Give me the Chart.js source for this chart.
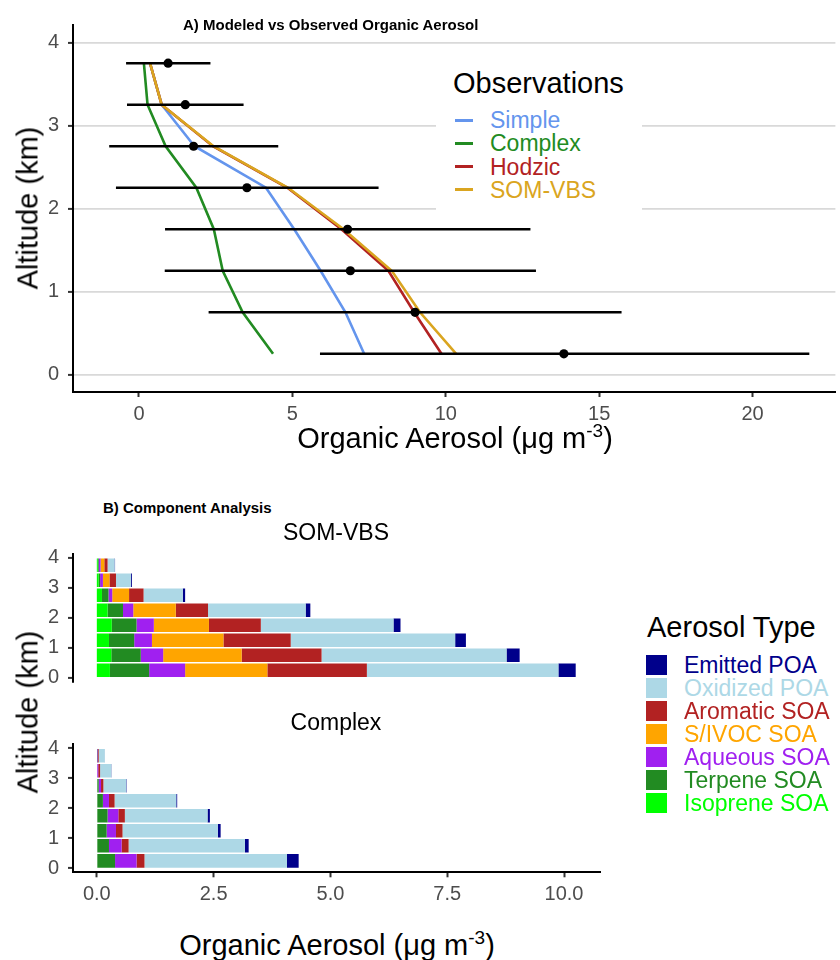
<!DOCTYPE html>
<html lang="en">
<head>
<meta charset="UTF-8">
<title>Organic Aerosol</title>
<script src="https://cdn.jsdelivr.net/npm/chart.js"></script>
<style>
  body { margin: 0; background: #fff; }
  #wrap { position: relative; width: 840px; height: 960px; overflow: hidden;
          font-family: 'Liberation Sans', Arial, sans-serif; color: #000; }
  #wrap canvas { position: absolute; }
  .txt { position: absolute; white-space: nowrap; line-height: 1; transform: translate(-50%, -50%); }
  .lft { transform: translate(0, -50%); }
  .rot { transform: translate(-50%, -50%) rotate(-90deg); }
  .ttl { font-weight: bold; }
  .axt { font-size: 29px; }
  .axt sup { font-size: 19px; }
  .strip { font-size: 23px; }
  #legA { position: absolute; left: 436px; top: 50px; width: 206px; height: 164px; background: #fff; }
  .key { position: absolute; }
</style>
</head>
<body>
<div id="wrap">
  <canvas id="panelA" width="840" height="440" style="left:0;top:0"></canvas>
  <canvas id="panelSom" width="620" height="145" style="left:0;top:540px"></canvas>
  <canvas id="panelCpx" width="620" height="190" style="left:0;top:730px"></canvas>

  <div class="txt lft ttl" style="left:183px;top:24px;font-size:15px">A) Modeled vs Observed Organic Aerosol</div>
  <div class="txt rot axt" style="left:28px;top:208px">Altitude (km)</div>
  <div class="txt axt" style="left:455px;top:437px">Organic Aerosol (μg m<sup>-3</sup>)</div>

  <div id="legA"></div>

  <div class="txt lft ttl" style="left:103px;top:507px;font-size:15px">B) Component Analysis</div>
  <div class="txt strip" style="left:336px;top:532px">SOM-VBS</div>
  <div class="txt strip" style="left:336px;top:722px">Complex</div>
  <div class="txt rot axt" style="left:28px;top:712px">Altitude (km)</div>
  <div class="txt axt" style="left:337px;top:944px">Organic Aerosol (μg m<sup>-3</sup>)</div>

  <div id="legB"></div>
</div>

<script>
// ---- panel A: modeled profiles vs observations ----
const altitudes = [0.25, 0.75, 1.25, 1.75, 2.25, 2.75, 3.25, 3.75];

const obsMean = [13.85, 9.00, 6.89, 6.80, 3.52, 1.78, 1.51, 0.95];
const obsLow  = [5.90, 2.27, 0.84, 0.85, -0.75, -0.97, -0.39, -0.42];
const obsHigh = [21.85, 15.73, 12.94, 12.76, 7.81, 4.54, 3.41, 2.33];

const simpleOA  = [7.34, 6.73, 5.92, 5.06, 4.14, 1.81, 0.74, 0.36];
const complexOA = [4.37, 3.38, 2.73, 2.44, 1.87, 0.87, 0.28, 0.16];
const hodzicOA  = [9.86, 8.97, 8.13, 6.60, 4.84, 2.41, 0.74, 0.36];
const somvbsOA  = [10.34, 9.16, 8.24, 6.67, 4.86, 2.43, 0.74, 0.36];

const modelNames  = ['Simple', 'Complex', 'Hodzic', 'SOM-VBS'];
const modelColors = ['#6495ED', '#228B22', '#B22222', '#DAA520'];

const xTicksA  = [0, 5, 10, 15, 20];
const xLabelsA = ['0', '5', '10', '15', '20'];
const yTicks   = [0, 1, 2, 3, 4];
const yLabels  = ['0', '1', '2', '3', '4'];

// ---- panel B: component breakdown (segment widths, bottom to top altitude) ----
const components = ['Isoprene SOA', 'Terpene SOA', 'Aqueous SOA', 'S/IVOC SOA', 'Aromatic SOA', 'Oxidized POA', 'Emitted POA'];
const compColors = ['#00FF00', '#228B22', '#A020F0', '#FFA500', '#B22222', '#ADD8E6', '#00008B'];

const somIsoprene = [0.28, 0.31, 0.26, 0.32, 0.23, 0.11, 0.04, 0.02];
const somTerpene  = [0.84, 0.63, 0.54, 0.53, 0.33, 0.14, 0.03, 0.02];
const somAqueous  = [0.77, 0.48, 0.38, 0.37, 0.22, 0.08, 0.06, 0.04];
const somSivoc    = [1.76, 1.68, 1.53, 1.18, 0.91, 0.36, 0.14, 0.08];
const somAromatic = [2.13, 1.71, 1.44, 1.11, 0.69, 0.31, 0.14, 0.07];
const somOxPOA    = [4.10, 3.96, 3.52, 2.84, 2.09, 0.84, 0.32, 0.15];
const somEmPOA    = [0.37, 0.28, 0.23, 0.15, 0.10, 0.05, 0.02, 0.01];

const cpxIsoprene = [0, 0, 0, 0, 0, 0, 0, 0];
const cpxTerpene  = [0.39, 0.26, 0.21, 0.23, 0.13, 0.04, 0.01, 0.005];
const cpxAqueous  = [0.46, 0.27, 0.20, 0.23, 0.13, 0.05, 0.02, 0.015];
const cpxSivoc    = [0, 0, 0, 0, 0, 0, 0, 0];
const cpxAromatic = [0.17, 0.15, 0.14, 0.14, 0.12, 0.05, 0.04, 0.02];
const cpxOxPOA    = [3.05, 2.49, 2.04, 1.77, 1.32, 0.49, 0.24, 0.13];
const cpxEmPOA    = [0.25, 0.08, 0.06, 0.05, 0.02, 0.01, 0.005, 0.003];

const xTicksB  = [0, 2.5, 5, 7.5, 10];
const xLabelsB = ['0.0', '2.5', '5.0', '7.5', '10.0'];

Chart.defaults.font.family = "'Liberation Sans', Arial, sans-serif";
Chart.defaults.animation = false;

function fixTicks(values) {
  return function (scale) { scale.ticks = values.map(v => ({ value: v })); };
}

const tickFont = { size: 20 };
const tickGray = '#4d4d4d';

// y axis used by all three panels
function yAxis(min, max, grid) {
  return {
    type: 'linear', min: min, max: max, offset: false,
    afterBuildTicks: fixTicks(yTicks),
    afterFit: s => { s.width = 73; s.paddingTop = 0; s.paddingBottom = 0; },
    border: { color: '#000', width: 2 },
    grid: {
      offset: false, drawOnChartArea: grid, color: '#d9d9d9', lineWidth: 1.8,
      tickLength: 5, tickColor: '#333', tickWidth: 2
    },
    ticks: { padding: 9, font: tickFont, color: tickGray, callback: (v, i) => yLabels[i] }
  };
}

// ---- panel A chart ----
const modelSeries = [simpleOA, complexOA, hodzicOA, somvbsOA];
const datasetsA = [];

modelSeries.forEach(function (vals, k) {
  datasetsA.push({
    label: modelNames[k],
    data: vals.map((v, i) => ({ x: v, y: altitudes[i] })),
    showLine: true, borderColor: modelColors[k], borderWidth: 2.6,
    pointRadius: 0, tension: 0, order: 10 - k
  });
});

// horizontal error bars, one short segment per altitude
altitudes.forEach(function (a, i) {
  datasetsA.push({
    label: 'err' + i,
    data: [{ x: obsLow[i], y: a }, { x: obsHigh[i], y: a }],
    showLine: true, borderColor: '#000', borderWidth: 2.6,
    pointRadius: 0, order: 2
  });
});

datasetsA.push({
  label: 'Observations',
  data: obsMean.map((v, i) => ({ x: v, y: altitudes[i] })),
  pointRadius: 4.6, backgroundColor: '#000', borderWidth: 0, order: 0
});

new Chart(document.getElementById('panelA'), {
  type: 'scatter',
  data: { datasets: datasetsA },
  options: {
    responsive: false,
    layout: { padding: { top: 25, right: 0, left: 0, bottom: 0 } },
    plugins: { legend: { display: false }, tooltip: { enabled: false } },
    scales: {
      x: {
        type: 'linear', min: -2.15, max: 22.7,
        afterBuildTicks: fixTicks(xTicksA),
        afterFit: s => { s.height = 48; s.paddingLeft = 0; s.paddingRight = 0; },
        border: { color: '#000', width: 2 },
        grid: { drawOnChartArea: false, tickLength: 5, tickColor: '#333', tickWidth: 2 },
        ticks: { padding: 5, maxRotation: 0, font: tickFont, color: tickGray, callback: (v, i) => xLabelsA[i] }
      },
      y: yAxis(-0.21, 4.21, true)
    }
  }
});

// ---- panel B charts ----
function barDatasets(series) {
  return series.map((vals, k) => ({
    label: components[k],
    data: vals.map((v, i) => ({ x: v, y: altitudes[i] })),
    backgroundColor: compColors[k],
    borderWidth: 0,
    categoryPercentage: 1,
    barPercentage: 0.9
  }));
}

function xAxisB(show) {
  return {
    type: 'linear', stacked: true, min: -0.51, max: 10.77, display: show,
    afterBuildTicks: fixTicks(xTicksB),
    afterFit: s => { if (show) { s.height = 47.7; } s.paddingLeft = 0; s.paddingRight = 0; },
    border: { color: '#000', width: 2 },
    grid: { drawOnChartArea: false, tickLength: 5, tickColor: '#333', tickWidth: 2 },
    ticks: { padding: 5, maxRotation: 0, font: tickFont, color: tickGray, callback: (v, i) => xLabelsB[i] }
  };
}

function barOptions(showX, pad) {
  const y = yAxis(-0.13, 4.13, false);
  y.stacked = true;
  return {
    responsive: false,
    indexAxis: 'y',
    layout: { padding: pad },
    plugins: { legend: { display: false }, tooltip: { enabled: false } },
    scales: { x: xAxisB(showX), y: y }
  };
}

new Chart(document.getElementById('panelSom'), {
  type: 'bar',
  data: { datasets: barDatasets([somIsoprene, somTerpene, somAqueous, somSivoc, somAromatic, somOxPOA, somEmPOA]) },
  options: barOptions(false, { top: 13.8, bottom: 3.4, right: 20, left: 0 })
});

new Chart(document.getElementById('panelCpx'), {
  type: 'bar',
  data: { datasets: barDatasets([cpxIsoprene, cpxTerpene, cpxAqueous, cpxSivoc, cpxAromatic, cpxOxPOA, cpxEmPOA]) },
  options: barOptions(true, { top: 14.3, bottom: 0, right: 20, left: 0 })
});

// ---- legends ----
const legA = document.getElementById('legA');
let htmlA = '<div class="txt lft" style="left:17px;top:33px;font-size:29px">Observations</div>';
modelNames.forEach(function (name, k) {
  const cy = 70 + k * 23.3;
  htmlA += '<div class="key" style="left:19px;top:' + (cy - 1.5) + 'px;width:18px;height:3px;background:' + modelColors[k] + '"></div>';
  htmlA += '<div class="txt lft" style="left:54px;top:' + cy + 'px;font-size:23px;color:' + modelColors[k] + '">' + name + '</div>';
});
legA.innerHTML = htmlA;

const legB = document.getElementById('legB');
let htmlB = '<div class="txt lft" style="left:647px;top:627px;font-size:29px">Aerosol Type</div>';
components.slice().reverse().forEach(function (name, j) {
  const color = compColors[components.length - 1 - j];
  const cy = 665 + j * 23;
  htmlB += '<div class="key" style="left:646px;top:' + (cy - 10) + 'px;width:21px;height:20px;background:' + color + '"></div>';
  htmlB += '<div class="txt lft" style="left:684px;top:' + cy + 'px;font-size:23px;color:' + color + '">' + name + '</div>';
});
legB.innerHTML = htmlB;
</script>
</body>
</html>
